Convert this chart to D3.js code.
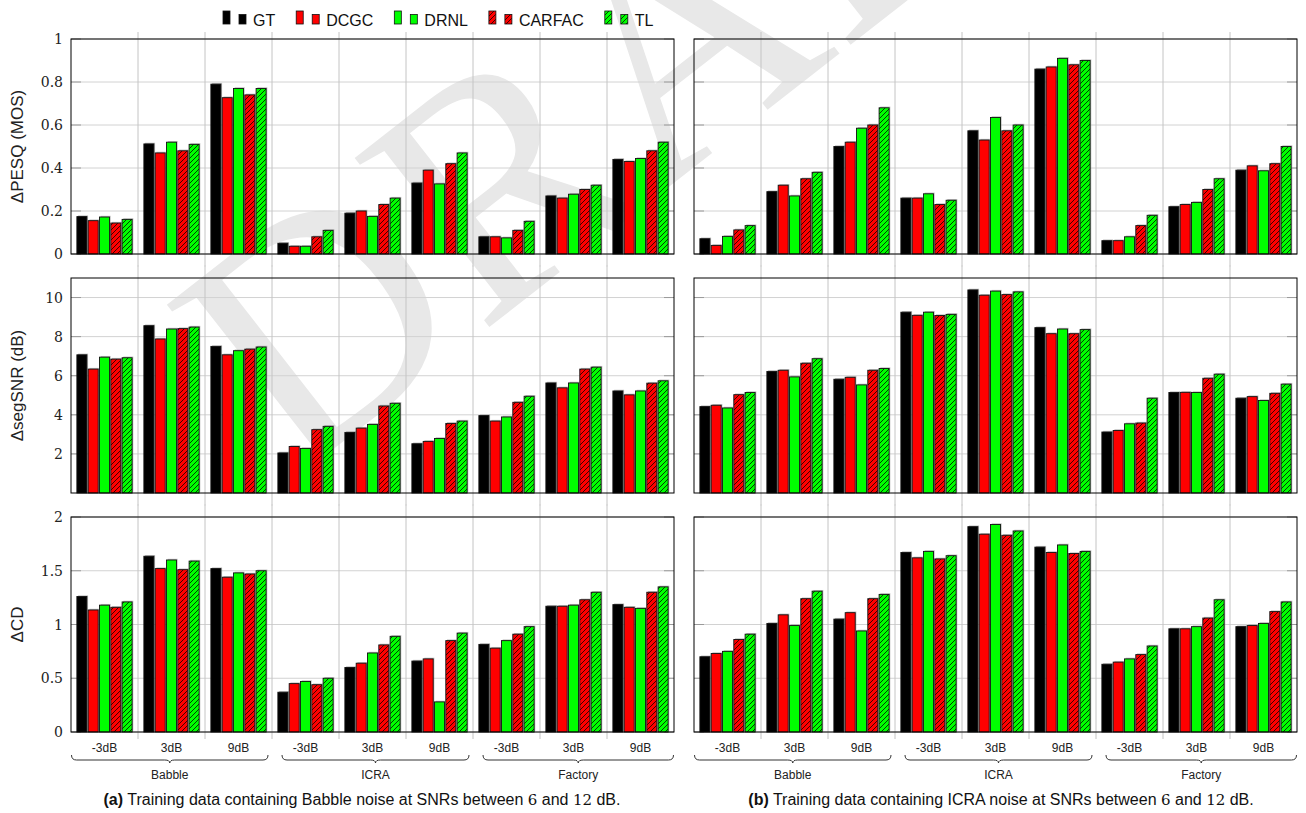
<!DOCTYPE html>
<html>
<head>
<meta charset="utf-8">
<script src="https://cdn.jsdelivr.net/npm/d3@7"></script>
<style>
  body { margin: 0; background: #fff; }
  svg { display: block; }
</style>
</head>
<body>
<div id="chart"></div>
<script>
// categories
var noises = ['Babble', 'ICRA', 'Factory'];
var snrs = ['-3dB', '3dB', '9dB'];
var series = ['GT', 'DCGC', 'DRNL', 'CARFAC', 'TL'];

// (a) trained on Babble -- one row per noise/snr, columns = series
var pesqA = [
  [0.174, 0.155, 0.172, 0.144, 0.161],
  [0.512, 0.470, 0.520, 0.480, 0.510],
  [0.790, 0.727, 0.770, 0.740, 0.770],
  [0.050, 0.036, 0.036, 0.080, 0.110],
  [0.190, 0.200, 0.175, 0.230, 0.260],
  [0.330, 0.390, 0.326, 0.420, 0.470],
  [0.080, 0.080, 0.075, 0.110, 0.152],
  [0.270, 0.260, 0.278, 0.300, 0.320],
  [0.440, 0.430, 0.444, 0.480, 0.520]
];
var snrA = [
  [7.07, 6.34, 6.95, 6.85, 6.92],
  [8.56, 7.88, 8.39, 8.41, 8.49],
  [7.50, 7.07, 7.28, 7.36, 7.47],
  [2.05, 2.38, 2.28, 3.24, 3.41],
  [3.10, 3.32, 3.51, 4.45, 4.59],
  [2.52, 2.64, 2.79, 3.56, 3.68],
  [3.96, 3.68, 3.89, 4.64, 4.95],
  [5.63, 5.38, 5.63, 6.34, 6.44],
  [5.22, 5.02, 5.22, 5.62, 5.74]
];
var cdA = [
  [1.26, 1.135, 1.18, 1.16, 1.21],
  [1.635, 1.52, 1.60, 1.51, 1.59],
  [1.52, 1.44, 1.48, 1.47, 1.50],
  [0.37, 0.45, 0.47, 0.44, 0.50],
  [0.60, 0.64, 0.735, 0.81, 0.89],
  [0.66, 0.68, 0.28, 0.85, 0.92],
  [0.815, 0.78, 0.85, 0.91, 0.98],
  [1.17, 1.17, 1.18, 1.23, 1.30],
  [1.185, 1.16, 1.15, 1.30, 1.35]
];

// (b) trained on ICRA
var pesqB = [
  [0.071, 0.040, 0.082, 0.112, 0.132],
  [0.290, 0.320, 0.270, 0.350, 0.380],
  [0.500, 0.520, 0.585, 0.600, 0.680],
  [0.260, 0.260, 0.280, 0.230, 0.250],
  [0.573, 0.530, 0.635, 0.573, 0.600],
  [0.860, 0.870, 0.910, 0.880, 0.900],
  [0.062, 0.062, 0.080, 0.132, 0.180],
  [0.220, 0.230, 0.240, 0.300, 0.350],
  [0.390, 0.410, 0.387, 0.420, 0.500]
];
var snrB = [
  [4.42, 4.49, 4.35, 5.03, 5.14],
  [6.22, 6.28, 5.94, 6.64, 6.87],
  [5.82, 5.92, 5.53, 6.28, 6.37],
  [9.25, 9.09, 9.25, 9.08, 9.14],
  [10.39, 10.12, 10.33, 10.15, 10.29],
  [8.46, 8.15, 8.39, 8.15, 8.36],
  [3.12, 3.20, 3.54, 3.58, 4.85],
  [5.14, 5.15, 5.14, 5.87, 6.08],
  [4.85, 4.93, 4.73, 5.10, 5.57]
];
var cdB = [
  [0.70, 0.73, 0.75, 0.86, 0.91],
  [1.01, 1.09, 0.99, 1.24, 1.31],
  [1.05, 1.11, 0.94, 1.24, 1.28],
  [1.67, 1.62, 1.68, 1.61, 1.64],
  [1.91, 1.84, 1.93, 1.83, 1.87],
  [1.72, 1.67, 1.74, 1.66, 1.68],
  [0.63, 0.65, 0.68, 0.72, 0.80],
  [0.96, 0.96, 0.98, 1.06, 1.23],
  [0.98, 0.99, 1.01, 1.12, 1.21]
];

var pesqTicks = [0, 0.2, 0.4, 0.6, 0.8, 1];
var snrTicks = [2, 4, 6, 8, 10];
var cdTicks = [0, 0.5, 1, 1.5, 2];

var seriesFill = ['#000', '#ff0000', '#00ff00', 'url(#hatch-red)', 'url(#hatch-green)'];

var width = 1306, height = 813;
var sans = '"Liberation Sans", Arial, Helvetica, sans-serif';
var serif = '"DejaVu Serif", serif';

var svg = d3.select('#chart').append('svg')
  .attr('width', width)
  .attr('height', height);

// hatch patterns (north east lines)
var defs = svg.append('defs');
[['hatch-red', '#ff0000'], ['hatch-green', '#00ff00']].forEach(function(p) {
  var pat = defs.append('pattern')
    .attr('id', p[0])
    .attr('patternUnits', 'userSpaceOnUse')
    .attr('width', 5)
    .attr('height', 5);
  pat.append('rect').attr('width', 5).attr('height', 5).attr('fill', p[1]);
  pat.append('path')
    .attr('d', 'M-1,1 L1,-1 M0,5 L5,0 M4,6 L6,4')
    .attr('stroke', '#000')
    .attr('stroke-width', 0.75);
});

// DRAFT watermark sits behind everything (runs off the top edge, as in the original)
svg.append('text')
  .attr('transform', 'translate(650,60) rotate(-38)')
  .attr('text-anchor', 'middle')
  .attr('dominant-baseline', 'central')
  .style('font-family', '"Liberation Serif", serif')
  .style('font-size', '330px')
  .attr('fill', '#e8e8e8')
  .text('DRAFT');

var cols = [{x0: 71, x1: 674}, {x0: 694, x1: 1297}];
var rows = [
  {y0: 39, y1: 254, max: 1, ticks: pesqTicks, label: '\u0394PESQ (MOS)', data: [pesqA, pesqB]},
  {y0: 278, y1: 493, max: 11, ticks: snrTicks, label: '\u0394segSNR (dB)', data: [snrA, snrB]},
  {y0: 517, y1: 732, max: 2, ticks: cdTicks, label: '\u0394CD', data: [cdA, cdB]}
];

var cats = [];
noises.forEach(function(n) { snrs.forEach(function(s) { cats.push(n + '|' + s); }); });

rows.forEach(function(row, ri) {
  cols.forEach(function(col, ci) {
    var g = svg.append('g');
    var x = d3.scaleBand().domain(cats).range([col.x0, col.x1]);
    var xs = d3.scaleBand().domain(series).range([0, x.bandwidth()])
      .paddingInner(0.115).paddingOuter(0.52);
    var y = d3.scaleLinear().domain([0, row.max]).range([row.y1, row.y0]);

    // horizontal grid
    g.selectAll('.hgrid').data(row.ticks).enter().append('line')
      .attr('x1', col.x0).attr('x2', col.x1)
      .attr('y1', function(d) { return y(d); })
      .attr('y2', function(d) { return y(d); })
      .attr('stroke', '#d2d2d2').attr('stroke-width', 1);

    // vertical grid at category boundaries, sticking out as ticks
    var bounds = cats.slice(1).map(function(c) { return x(c); });
    var ext0 = ri === 0 ? 7 : 12.5, ext1 = ri === 2 ? 7 : 12.5;
    g.selectAll('.vgrid').data(bounds).enter().append('line')
      .attr('x1', function(d) { return d; }).attr('x2', function(d) { return d; })
      .attr('y1', row.y0 - ext0).attr('y2', row.y1 + ext1)
      .attr('stroke', '#c4c4c4').attr('stroke-width', 1);

    // y ticks inside on both sides
    row.ticks.forEach(function(t) {
      [[col.x0, col.x0 + 10], [col.x1 - 10, col.x1]].forEach(function(seg) {
        g.append('line')
          .attr('x1', seg[0]).attr('x2', seg[1])
          .attr('y1', y(t)).attr('y2', y(t))
          .attr('stroke', '#9a9a9a').attr('stroke-width', 1);
      });
    });

    // bars
    var data = row.data[ci];
    cats.forEach(function(c, k) {
      var bg = g.append('g').attr('transform', 'translate(' + x(c) + ',0)');
      var vals = data[k].map(function(v, s) { return {s: series[s], i: s, v: v}; });
      // soft shadow
      bg.selectAll('.shadow').data(vals).enter().append('rect')
        .attr('x', function(d) { return xs(d.s) + 1.2; })
        .attr('y', function(d) { return y(d.v) - 1.2; })
        .attr('width', xs.bandwidth())
        .attr('height', function(d) { return y(0) - y(d.v); })
        .attr('fill', '#8a8a8a').attr('opacity', 0.55);
      bg.selectAll('.bar').data(vals).enter().append('rect')
        .attr('x', function(d) { return xs(d.s); })
        .attr('y', function(d) { return y(d.v); })
        .attr('width', xs.bandwidth())
        .attr('height', function(d) { return y(0) - y(d.v); })
        .attr('fill', function(d) { return seriesFill[d.i]; })
        .attr('stroke', '#111').attr('stroke-width', 0.9);
    });

    // frame
    g.append('rect')
      .attr('x', col.x0).attr('y', row.y0)
      .attr('width', col.x1 - col.x0).attr('height', row.y1 - row.y0)
      .attr('fill', 'none').attr('stroke', '#000').attr('stroke-width', 1);

    // only the left panels carry y tick labels and axis titles
    if (ci === 0) {
      g.selectAll('.ytl').data(row.ticks).enter().append('text')
        .attr('x', col.x0 - 8)
        .attr('y', function(d) { return y(d); })
        .attr('dy', '0.36em')
        .attr('text-anchor', 'end')
        .style('font-family', serif)
        .style('font-size', '14px')
        .attr('fill', '#222')
        .text(function(d) { return d3.format('~g')(d); });

      svg.append('text')
        .attr('transform', 'translate(23,' + ((row.y0 + row.y1) / 2) + ') rotate(-90)')
        .attr('text-anchor', 'middle')
        .style('font-family', sans)
        .style('font-size', '17px')
        .attr('fill', '#222')
        .text(row.label);
    }

    // category + group labels under bottom row
    if (ri === 2) {
      g.selectAll('.xtl').data(cats).enter().append('text')
        .attr('x', function(d) { return x(d) + x.bandwidth() / 2; })
        .attr('y', 752)
        .attr('text-anchor', 'middle')
        .style('font-family', sans)
        .style('font-size', '12px')
        .attr('fill', '#222')
        .text(function(d) { return d.split('|')[1]; });

      noises.forEach(function(n, ni) {
        var gx0 = x(n + '|' + snrs[0]) + (ni === 0 ? 0.5 : 10);
        var gx1 = x(n + '|' + snrs[2]) + x.bandwidth() - (ni === 2 ? 0.5 : 4);
        var mid = (gx0 + gx1) / 2, r = 5, yb0 = 755, yb1 = 760, yb2 = 763;
        var p = d3.path();
        p.moveTo(gx0, yb0);
        p.quadraticCurveTo(gx0, yb1, gx0 + r, yb1);
        p.lineTo(mid - r, yb1);
        p.quadraticCurveTo(mid, yb1, mid, yb2);
        p.quadraticCurveTo(mid, yb1, mid + r, yb1);
        p.lineTo(gx1 - r, yb1);
        p.quadraticCurveTo(gx1, yb1, gx1, yb0);
        g.append('path').attr('d', p.toString())
          .attr('fill', 'none').attr('stroke', '#333').attr('stroke-width', 1);
        g.append('text')
          .attr('x', mid).attr('y', 779)
          .attr('text-anchor', 'middle')
          .style('font-family', sans)
          .style('font-size', '12px')
          .attr('fill', '#222')
          .text(n);
      });
    }
  });
});

// captions
[['(a)', 'Babble', 362], ['(b)', 'ICRA', 1001]].forEach(function(c) {
  var t = svg.append('text')
    .attr('x', c[2]).attr('y', 805)
    .attr('text-anchor', 'middle')
    .style('font-family', sans)
    .style('font-size', '16px')
    .attr('fill', '#111');
  t.append('tspan').style('font-weight', 'bold').text(c[0]);
  t.append('tspan').text(' Training data containing ' + c[1] + ' noise at SNRs between ');
  t.append('tspan').style('font-family', serif).style('font-size', '15px').text('6');
  t.append('tspan').text(' and ');
  t.append('tspan').style('font-family', serif).style('font-size', '15px').text('12');
  t.append('tspan').text(' dB.');
});

// legend
var lx = 223;
series.forEach(function(s, i) {
  var lg = svg.append('g');
  lg.append('rect').attr('x', lx).attr('y', 11).attr('width', 7).attr('height', 13)
    .attr('fill', seriesFill[i]).attr('stroke', '#111').attr('stroke-width', 0.8);
  lg.append('rect').attr('x', lx + 16).attr('y', 14.5).attr('width', 7).attr('height', 9.5)
    .attr('fill', seriesFill[i]).attr('stroke', '#111').attr('stroke-width', 0.8);
  var t = lg.append('text')
    .attr('x', lx + 30).attr('y', 25.5)
    .style('font-family', sans)
    .style('font-size', '16px')
    .attr('fill', '#111')
    .text(s);
  lx += 30 + t.node().getComputedTextLength() + 21;
});
</script>
</body>
</html>
